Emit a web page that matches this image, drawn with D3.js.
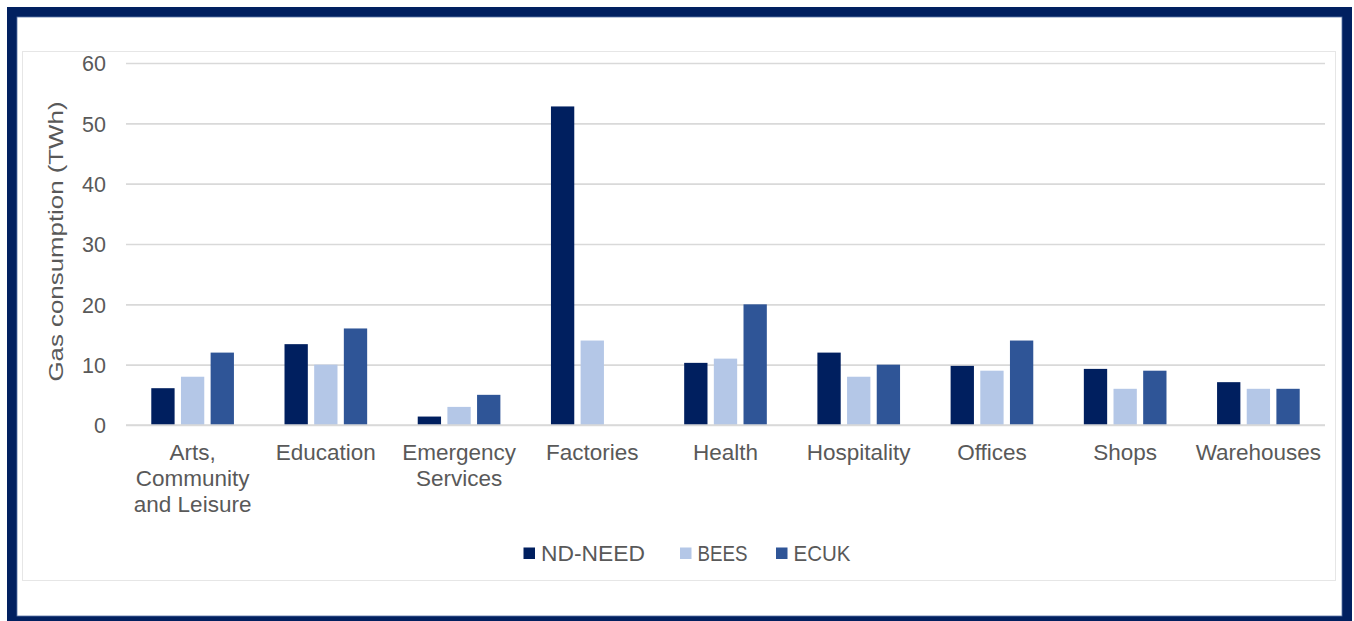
<!DOCTYPE html>
<html>
<head>
<meta charset="utf-8">
<script src="https://cdn.jsdelivr.net/npm/d3@7"></script>
<style>
  html, body { margin: 0; padding: 0; background: #ffffff; }
  svg { display: block; font-family: "Liberation Sans", Arial, sans-serif; }
</style>
</head>
<body>
<svg id="chart" width="1354" height="621"></svg>
<script>
// Non-domestic gas consumption by sector, three data sources (TWh)
const categories = ["Arts, Community and Leisure", "Education", "Emergency Services", "Factories",
  "Health", "Hospitality", "Offices", "Shops", "Warehouses"];
const categoryLines = [["Arts,", "Community", "and Leisure"], ["Education"], ["Emergency", "Services"],
  ["Factories"], ["Health"], ["Hospitality"], ["Offices"], ["Shops"], ["Warehouses"]];
const seriesNames = ["ND-NEED", "BEES", "ECUK"];
const ndNeed = [6.1, 13.4, 1.4, 52.8, 10.3, 12.0, 9.8, 9.3, 7.1];
const bees = [8, 10, 3, 14, 11, 8, 9, 6, 6];
const ecuk = [12, 16, 5, null, 20, 10, 14, 9, 6];
const yTicks = [0, 10, 20, 30, 40, 50, 60];
const yTitle = "Gas consumption (TWh)";

const seriesValues = [ndNeed, bees, ecuk];
const colors = ["#001f5f", "#b4c7e7", "#2f5597"];
const textColor = "#595959";
const gridColor = "#d9d9d9";

const svg = d3.select("#chart");

// Outer navy frame
svg.append("rect")
  .attr("x", 12).attr("y", 12).attr("width", 1335).attr("height", 609)
  .attr("fill", "#ffffff").attr("stroke", "#012060").attr("stroke-width", 10);
svg.append("rect")
  .attr("x", 17).attr("y", 17).attr("width", 1325).attr("height", 599)
  .attr("fill", "none").attr("stroke", "#5a74a6").attr("stroke-width", 0.8);

// Chart area border
svg.append("rect")
  .attr("x", 22.5).attr("y", 51.5).attr("width", 1313).attr("height", 529)
  .attr("fill", "#ffffff").attr("stroke", "#e6e6e6").attr("stroke-width", 1);

const x = d3.scaleBand().domain(categories).range([126, 1325]).padding(0);
const xs = d3.scaleBand().domain(seriesNames).range([-44.5, 44.5])
  .paddingInner(0.214).paddingOuter(0.107);
const y = d3.scaleLinear().domain([0, 60]).range([425, 63]);

// Gridlines and tick labels
const yAxis = d3.axisLeft(y).tickValues(yTicks).tickSize(-(1325 - 126)).tickPadding(20);
const gy = svg.append("g").attr("transform", "translate(126,0)").call(yAxis);
gy.select(".domain").remove();
gy.selectAll(".tick line").attr("stroke", gridColor).attr("stroke-width", 1.6);
gy.selectAll(".tick text")
  .attr("fill", textColor).attr("font-size", 21.5)
  .attr("font-family", "Liberation Sans, Arial, sans-serif")
  .attr("x", -20).attr("dy", "0.36em");

// Bars
const barData = [];
categories.forEach((c, i) => {
  seriesNames.forEach((s, j) => {
    const v = seriesValues[j][i];
    if (v !== null && v !== undefined) barData.push({ c, s, j, v });
  });
});
svg.append("g").selectAll("rect").data(barData).join("rect")
  .attr("x", d => x(d.c) + x.bandwidth() / 2 + xs(d.s))
  .attr("width", xs.bandwidth())
  .attr("y", d => y(d.v))
  .attr("height", d => y(0) - y(d.v))
  .attr("fill", d => colors[d.j]);

// Baseline
svg.append("line")
  .attr("x1", 126).attr("x2", 1325).attr("y1", y(0)).attr("y2", y(0))
  .attr("stroke", gridColor).attr("stroke-width", 1.6);

// Category labels
const gx = svg.append("g");
categories.forEach((c, i) => {
  const t = gx.append("text")
    .attr("x", x(c) + x.bandwidth() / 2)
    .attr("y", 459.5)
    .attr("text-anchor", "middle")
    .attr("fill", textColor).attr("font-size", 22.5);
  categoryLines[i].forEach((line, k) => {
    t.append("tspan").attr("x", x(c) + x.bandwidth() / 2)
      .attr("dy", k === 0 ? 0 : 26.2).text(line);
  });
});

// Y-axis title
svg.append("text")
  .attr("transform", "translate(63,241.5) rotate(-90)")
  .attr("text-anchor", "middle")
  .attr("fill", textColor).attr("font-size", 21)
  .attr("textLength", 280).attr("lengthAdjust", "spacingAndGlyphs")
  .text(yTitle);

// Legend
const legendX = [523.5, 680, 776];
const legendTextWidth = [104, 50, 57];
const lg = svg.append("g");
seriesNames.forEach((s, j) => {
  lg.append("rect").attr("x", legendX[j]).attr("y", 547.5)
    .attr("width", 11.5).attr("height", 11.5).attr("fill", colors[j]);
  lg.append("text").attr("x", legendX[j] + 17.5).attr("y", 561)
    .attr("fill", textColor).attr("font-size", 22)
    .attr("textLength", legendTextWidth[j]).attr("lengthAdjust", "spacingAndGlyphs")
    .text(s);
});
</script>
</body>
</html>
